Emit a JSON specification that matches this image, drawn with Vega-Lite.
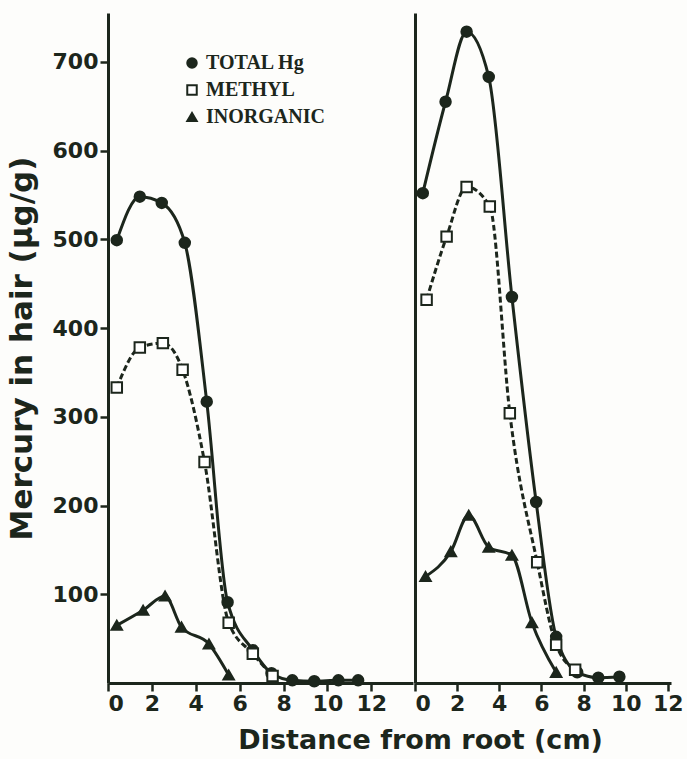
{
  "$schema": "https://vega.github.io/schema/vega-lite/v6.json",
  "background": "#fdfdfb",
  "padding": {"left": 6, "top": 13, "right": 3, "bottom": 5},
  "spacing": 0,
  "datasets": {
    "hair": [
      {"panel": "A", "series": "TOTAL Hg", "x": 0.4, "y": 499},
      {"panel": "A", "series": "TOTAL Hg", "x": 1.45, "y": 548},
      {"panel": "A", "series": "TOTAL Hg", "x": 2.45, "y": 541},
      {"panel": "A", "series": "TOTAL Hg", "x": 3.5, "y": 496},
      {"panel": "A", "series": "TOTAL Hg", "x": 4.5, "y": 317},
      {"panel": "A", "series": "TOTAL Hg", "x": 5.45, "y": 91},
      {"panel": "A", "series": "TOTAL Hg", "x": 6.6, "y": 37},
      {"panel": "A", "series": "TOTAL Hg", "x": 7.45, "y": 11},
      {"panel": "A", "series": "TOTAL Hg", "x": 8.4, "y": 3},
      {"panel": "A", "series": "TOTAL Hg", "x": 9.4, "y": 2},
      {"panel": "A", "series": "TOTAL Hg", "x": 10.5, "y": 3},
      {"panel": "A", "series": "TOTAL Hg", "x": 11.4, "y": 3},
      {"panel": "A", "series": "METHYL", "x": 0.4, "y": 333},
      {"panel": "A", "series": "METHYL", "x": 1.45, "y": 378},
      {"panel": "A", "series": "METHYL", "x": 2.5, "y": 383},
      {"panel": "A", "series": "METHYL", "x": 3.4, "y": 353},
      {"panel": "A", "series": "METHYL", "x": 4.4, "y": 249},
      {"panel": "A", "series": "METHYL", "x": 5.5, "y": 68},
      {"panel": "A", "series": "METHYL", "x": 6.6, "y": 33},
      {"panel": "A", "series": "METHYL", "x": 7.5, "y": 8},
      {"panel": "A", "series": "INORGANIC", "x": 0.4, "y": 65},
      {"panel": "A", "series": "INORGANIC", "x": 1.6, "y": 82},
      {"panel": "A", "series": "INORGANIC", "x": 2.6, "y": 98},
      {"panel": "A", "series": "INORGANIC", "x": 3.35, "y": 63},
      {"panel": "A", "series": "INORGANIC", "x": 4.6, "y": 44},
      {"panel": "A", "series": "INORGANIC", "x": 5.5, "y": 9},
      {"panel": "B", "series": "TOTAL Hg", "x": 0.37, "y": 552},
      {"panel": "B", "series": "TOTAL Hg", "x": 1.45, "y": 655},
      {"panel": "B", "series": "TOTAL Hg", "x": 2.45, "y": 734},
      {"panel": "B", "series": "TOTAL Hg", "x": 3.5, "y": 683},
      {"panel": "B", "series": "TOTAL Hg", "x": 4.6, "y": 435},
      {"panel": "B", "series": "TOTAL Hg", "x": 5.75, "y": 204},
      {"panel": "B", "series": "TOTAL Hg", "x": 6.7, "y": 52},
      {"panel": "B", "series": "TOTAL Hg", "x": 7.7, "y": 12},
      {"panel": "B", "series": "TOTAL Hg", "x": 8.7, "y": 6},
      {"panel": "B", "series": "TOTAL Hg", "x": 9.7, "y": 7},
      {"panel": "B", "series": "METHYL", "x": 0.55, "y": 432},
      {"panel": "B", "series": "METHYL", "x": 1.5, "y": 503},
      {"panel": "B", "series": "METHYL", "x": 2.45, "y": 559},
      {"panel": "B", "series": "METHYL", "x": 3.55, "y": 537},
      {"panel": "B", "series": "METHYL", "x": 4.5, "y": 304},
      {"panel": "B", "series": "METHYL", "x": 5.8, "y": 136},
      {"panel": "B", "series": "METHYL", "x": 6.7, "y": 43},
      {"panel": "B", "series": "METHYL", "x": 7.6, "y": 15},
      {"panel": "B", "series": "INORGANIC", "x": 0.5, "y": 120},
      {"panel": "B", "series": "INORGANIC", "x": 1.7, "y": 148},
      {"panel": "B", "series": "INORGANIC", "x": 2.55, "y": 189},
      {"panel": "B", "series": "INORGANIC", "x": 3.5, "y": 153},
      {"panel": "B", "series": "INORGANIC", "x": 4.6, "y": 144},
      {"panel": "B", "series": "INORGANIC", "x": 5.55, "y": 68},
      {"panel": "B", "series": "INORGANIC", "x": 6.7, "y": 12}
    ]
  },
  "title": {
    "text": "Distance from root (cm)",
    "orient": "bottom",
    "anchor": "middle",
    "fontSize": 27,
    "fontWeight": "bold",
    "font": "DejaVu Sans",
    "color": "#1c261c",
    "offset": 14,
    "dx": 76
  },
  "hconcat": [
    {
      "width": 305,
      "height": 670,
      "data": {"name": "hair"},
      "transform": [{"filter": "datum.panel === 'A'"}],
      "encoding": {
        "x": {"field": "x", "type": "quantitative", "scale": {"domain": [0, 13.9], "nice": false},
          "axis": {"values": [0, 2, 4, 6, 8, 10, 12], "title": null}},
        "y": {"field": "y", "type": "quantitative", "scale": {"domain": [0, 755], "nice": false},
          "axis": {"values": [100, 200, 300, 400, 500, 600, 700], "title": "Mercury in hair (μg/g)", "titleFontSize": 31, "titlePadding": 14}}
      },
      "layer": [
        {
          "transform": [{"filter": "datum.series !== 'METHYL'"}],
          "mark": {"type": "line", "interpolate": "monotone", "color": "#1c261c", "strokeWidth": 3},
          "encoding": {"detail": {"field": "series"}}
        },
        {
          "transform": [{"filter": "datum.series === 'METHYL'"}],
          "mark": {"type": "line", "interpolate": "monotone", "color": "#1c261c", "strokeWidth": 3, "strokeDash": [6, 3]},
          "encoding": {}
        },
        {
          "mark": {"type": "point", "size": 110, "strokeWidth": 2, "opacity": 1},
          "encoding": {
            "shape": {"field": "series", "type": "nominal", "title": null,
              "scale": {"domain": ["TOTAL Hg", "METHYL", "INORGANIC"], "range": ["circle", "square", "triangle-up"]},
              "legend": {"orient": "none", "legendX": 74, "legendY": 40}},
            "fill": {"field": "series", "type": "nominal", "title": null,
              "scale": {"domain": ["TOTAL Hg", "METHYL", "INORGANIC"], "range": ["#1c261c", "#ffffff", "#1c261c"]},
              "legend": {"orient": "none", "legendX": 74, "legendY": 40}},
            "stroke": {"field": "series", "type": "nominal", "title": null,
              "scale": {"domain": ["TOTAL Hg", "METHYL", "INORGANIC"], "range": ["#1c261c", "#1c261c", "#1c261c"]},
              "legend": {"orient": "none", "legendX": 74, "legendY": 40}}
          }
        }
      ]
    },
    {
      "width": 256,
      "height": 670,
      "data": {"name": "hair"},
      "transform": [{"filter": "datum.panel === 'B'"}],
      "encoding": {
        "x": {"field": "x", "type": "quantitative", "scale": {"domain": [0, 12.15], "nice": false},
          "axis": {"values": [0, 2, 4, 6, 8, 10, 12], "title": null}},
        "y": {"field": "y", "type": "quantitative", "scale": {"domain": [0, 755], "nice": false},
          "axis": {"labels": false, "ticks": false, "title": null}}
      },
      "layer": [
        {
          "transform": [{"filter": "datum.series !== 'METHYL'"}],
          "mark": {"type": "line", "interpolate": "monotone", "color": "#1c261c", "strokeWidth": 3},
          "encoding": {"detail": {"field": "series"}}
        },
        {
          "transform": [{"filter": "datum.series === 'METHYL'"}],
          "mark": {"type": "line", "interpolate": "monotone", "color": "#1c261c", "strokeWidth": 3, "strokeDash": [6, 3]},
          "encoding": {}
        },
        {
          "mark": {"type": "point", "size": 110, "strokeWidth": 2, "opacity": 1},
          "encoding": {
            "shape": {"field": "series", "type": "nominal", "title": null,
              "scale": {"domain": ["TOTAL Hg", "METHYL", "INORGANIC"], "range": ["circle", "square", "triangle-up"]},
              "legend": {"orient": "none", "legendX": 74, "legendY": 40}},
            "fill": {"field": "series", "type": "nominal", "title": null,
              "scale": {"domain": ["TOTAL Hg", "METHYL", "INORGANIC"], "range": ["#1c261c", "#ffffff", "#1c261c"]},
              "legend": {"orient": "none", "legendX": 74, "legendY": 40}},
            "stroke": {"field": "series", "type": "nominal", "title": null,
              "scale": {"domain": ["TOTAL Hg", "METHYL", "INORGANIC"], "range": ["#1c261c", "#1c261c", "#1c261c"]},
              "legend": {"orient": "none", "legendX": 74, "legendY": 40}}
          }
        }
      ]
    }
  ],
  "config": {
    "view": {"stroke": null},
    "font": "DejaVu Sans",
    "axis": {
      "grid": false,
      "domainColor": "#1c261c",
      "domainWidth": 3,
      "tickColor": "#1c261c",
      "tickWidth": 2.5,
      "tickSize": 8,
      "labelFont": "DejaVu Sans",
      "labelFontSize": 22,
      "labelFontWeight": "bold",
      "labelColor": "#1c261c",
      "labelPadding": 2,
      "titleFont": "DejaVu Sans",
      "titleFontWeight": "bold",
      "titleColor": "#1c261c"
    },
    "legend": {
      "labelFont": "Liberation Serif",
      "labelFontSize": 20,
      "labelFontWeight": "bold",
      "labelColor": "#1c261c",
      "symbolStrokeWidth": 2,
      "symbolSize": 90,
      "rowPadding": 7,
      "symbolOpacity": 1
    }
  }
}
